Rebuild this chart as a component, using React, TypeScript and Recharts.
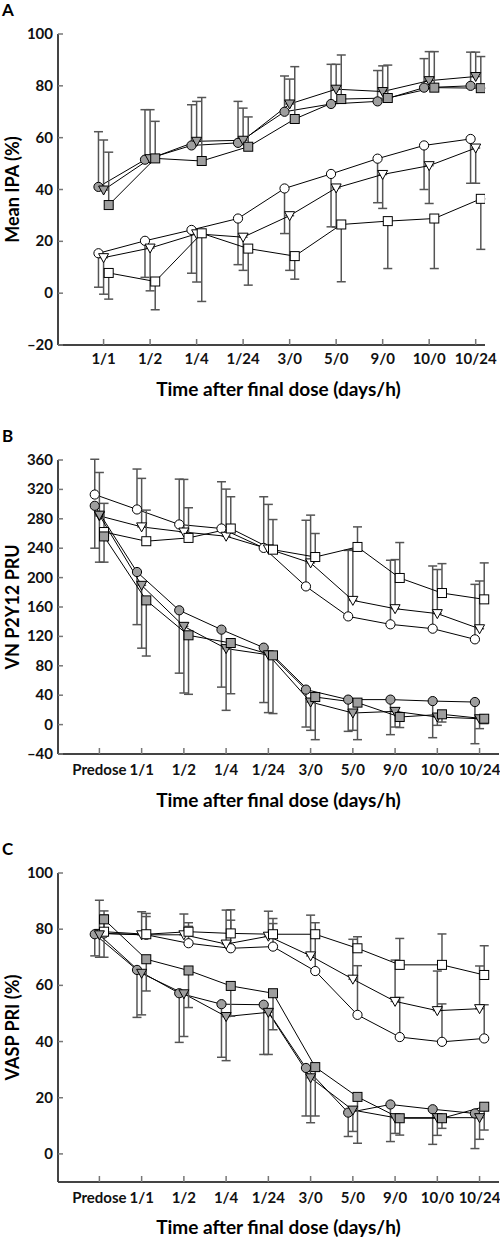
import React from "react";
import { LineChart, Line, XAxis, YAxis, ErrorBar } from "recharts";

// categories
const catsA = ["1/1", "1/2", "1/4", "1/24", "3/0", "5/0", "9/0", "10/0", "10/24"];
const catsBC = ["Predose", "1/1", "1/2", "1/4", "1/24", "3/0", "5/0", "9/0", "10/0", "10/24"];

// panel A: mean IPA (%) -- means and whisker ends
const aGrayCircle = [41, 51.5, 57, 58, 70, 73, 74, 79.3, 80];
const aGrayCircleHi = [62.3, 70.8, 72.7, 74, 83.8, 88.3, 85.9, 90.5, 93];
const aGrayTri = [39.8, 51.9, 58.6, 59, 73, 78.7, 77.8, 82, 83.6];
const aGrayTriHi = [59.1, 70.8, 74, 71.4, 82.6, 88.3, 87.7, 93.2, 93];
const aGraySq = [34, 52, 51, 56.5, 67.2, 74.9, 75.3, 79.3, 79.1];
const aGraySqHi = [54.4, 66.3, 75.5, 68, 87.4, 91.9, 88, 93.2, 91.3];
const aOpenCircle = [15.4, 20.2, 24.4, 28.8, 40.4, 46, 51.9, 57, 59.5];
const aOpenCircleLo = [2.3, 6.1, 7.7, 11, 23, 25.6, 34.9, 40, 42.4];
const aOpenTri = [13.7, 17.4, 22.9, 21.6, 29.9, 40.6, 45.8, 49.2, 56];
const aOpenTriLo = [-0.4, 0.9, 4.3, 8.8, 8.8, 25.5, 32.7, 34.6, 42.4];
const aOpenSq = [7.8, 4.5, 23.1, 17.2, 14.3, 26.5, 27.8, 28.8, 36.4];
const aOpenSqLo = [-2.3, -6.4, -3.2, 3.1, 5.4, 4.4, 9.5, 9.5, 16.9];

// panel B: VN P2Y12 PRU
const bOpenCircle = [313, 292.7, 272.3, 266.8, 240.4, 188, 147.2, 136.4, 130.5, 116];
const bOpenCircleHi = [361, 347.7, 334, 330.4, 310, 278, 237, 223.6, 215.8, 190.8];
const bOpenTri = [284, 269, 262, 256.3, 239, 220, 169, 157.7, 151, 130.4];
const bOpenTriHi = [343, 335, 333.6, 320.4, 299.6, 285, 238, 224.5, 211, 195.4];
const bOpenSq = [262, 249.5, 254, 266.8, 238, 228, 241.7, 199.5, 179, 170.4];
const bOpenSqHi = [301, 291.8, 295, 310, 279, 260, 269, 247.7, 219, 220];
const bGrayCircle = [297.7, 207.6, 155.5, 129.2, 104.7, 47.6, 34, 34, 32, 30.7];
const bGrayCircleLo = [240, 136, 70, 51, 30, -3.3, -9.2, -13.7, -17.8, -26];
const bGrayTri = [285, 189.5, 133.7, 103.4, 95, 30.7, 15.8, 18, 10.3, 8];
const bGrayTriLo = [221, 104, 43, 19.4, 16.3, -7.8, -7.8, -3.3, -1, -5.5];
const bGraySq = [256, 169, 121.5, 111, 94.2, 37.5, 29.9, 10.3, 14, 8];
const bGraySqLo = [221, 93.3, 41.2, 42, 15, -20.5, -20.5, -4, 3.5, 1.3];

// panel C: VASP PRI (%)
const cOpenCircle = [78.5, 78, 75, 73.2, 73.8, 65.1, 49.5, 41.6, 39.9, 41.1];
const cOpenCircleHi = [85, 84.5, 81, 83.2, 82, 77, 67, 55.7, 53.4, 53.1];
const cOpenTri = [78.5, 78, 78, 74.7, 77.5, 70.5, 62.2, 54.3, 51, 51.7];
const cOpenTriHi = [90.3, 86.2, 85.4, 86.8, 86.4, 85, 76.4, 69, 65.1, 66.9];
const cOpenSq = [79.1, 78.2, 79.1, 78.5, 78.2, 78.2, 73.2, 67.3, 67.3, 63.7];
const cOpenSqHi = [86.5, 85.6, 82.3, 86.9, 83.8, 82.3, 77.3, 76.7, 78.3, 74.1];
const cGrayCircle = [78.2, 65.5, 57.2, 53.3, 53.1, 30.6, 14.7, 17.6, 15.9, 14.4];
const cGrayCircleLo = [70.5, 48.6, 39.7, 34.4, 35.4, 13.5, 6.2, 4.4, 3.4, 1.9];
const cGrayTri = [78, 64.3, 57, 48.9, 50.4, 27.1, 15.6, 12.9, 12.9, 12.9];
const cGrayTriLo = [70, 49.5, 41.8, 33.2, 35.4, 11.1, 8, 7.3, 6.6, 5.2];
const cGraySq = [83.5, 69.3, 65.3, 59.8, 57.2, 30.9, 20.3, 12.7, 12.7, 16.8];
const cGraySqLo = [70, 58, 52.1, 49, 44.2, 13.5, 3.8, 6.7, 9.1, 8.5];

const ticksA = [-20, 0, 20, 40, 60, 80, 100];
const ticksB = [-40, 0, 40, 80, 120, 160, 200, 240, 280, 320, 360];
const ticksC = [0, 20, 40, 60, 80, 100];

const FONT = "Lato, 'Open Sans', sans-serif";
const GRAY = "#9e9e9e";

type Marker = "circle" | "triangle" | "square";

interface SeriesDef {
  key: string;
  values: number[];
  whisker: number[];
  marker: Marker;
  filled: boolean;
  shift: number;
}

function toPoints(s: SeriesDef) {
  return s.values.map((v, i) => {
    const w = s.whisker[i];
    return { x: i + 1 + s.shift, y: v, err: w >= v ? [0, w - v] : [v - w, 0] };
  });
}

function makeDot(marker: Marker, filled: boolean) {
  return (props: any) => {
    const { cx, cy, index } = props;
    const fill = filled ? GRAY : "#fff";
    if (marker === "circle")
      return <circle key={index} cx={cx} cy={cy} r={4.6} fill={fill} stroke="#000" strokeWidth={1} />;
    if (marker === "square")
      return <rect key={index} x={cx - 4.5} y={cy - 4.5} width={9} height={9} fill={fill} stroke="#000" strokeWidth={1} />;
    return (
      <polygon
        key={index}
        points={`${cx - 5},${cy - 4} ${cx + 5},${cy - 4} ${cx},${cy + 5}`}
        fill={fill}
        stroke="#000"
        strokeWidth={1}
      />
    );
  };
}

const fmtNum = (v: number) => (v < 0 ? `\u2013${Math.abs(v)}` : `${v}`);

function YTick(props: any) {
  const { x, y, payload } = props;
  return (
    <g>
      <line x1={x + 5} x2={x + 10} y1={y} y2={y} stroke="#777" strokeWidth={1.5} />
      <text x={x} y={y} dy={5} textAnchor="end" fontFamily={FONT} fontWeight={700} fontSize={15} fill="#111">
        {fmtNum(payload.value)}
      </text>
    </g>
  );
}

function makeXTick(labels: string[], gap: number) {
  return (props: any) => {
    const { x, y, payload } = props;
    return (
      <g>
        <line x1={x} x2={x} y1={y} y2={y - 6} stroke="#777" strokeWidth={1.5} />
        <text x={x} y={y + gap} textAnchor="middle" fontFamily={FONT} fontWeight={700} fontSize={15} fill="#111">
          {labels[payload.value - 1]}
        </text>
      </g>
    );
  };
}

interface PanelProps {
  letter: string;
  top: number;
  height: number;
  marginTop: number;
  marginRight: number;
  axisHeight: number;
  labels: string[];
  xMax: number;
  yDomain: [number, number];
  yTicks: number[];
  yTitle: string;
  series: SeriesDef[];
  tickGap: number;
  titleOffset: number;
  titleDx: number;
}

function Panel(p: PanelProps) {
  const xTicks = p.labels.map((_, i) => i + 1);
  return (
    <div style={{ position: "absolute", left: 0, top: p.top, width: 500, height: p.height }}>
      <div
        style={{
          position: "absolute",
          left: 2,
          top: p.marginTop - 33,
          fontFamily: FONT,
          fontWeight: 700,
          fontSize: 17,
          lineHeight: "17px",
          color: "#000",
        }}
      >
        {p.letter}
      </div>
      <LineChart
        width={500}
        height={p.height}
        margin={{ top: p.marginTop, right: p.marginRight, bottom: 0, left: 0 }}
      >
        <XAxis
          type="number"
          dataKey="x"
          domain={[0.02, p.xMax]}
          allowDataOverflow
          ticks={xTicks}
          interval={0}
          height={p.axisHeight}
          tickSize={0}
          tickMargin={0}
          tickLine={false}
          tick={makeXTick(p.labels, p.tickGap)}
          axisLine={{ stroke: "#444", strokeWidth: 2 }}
          label={{
            value: "Time after final dose (days/h)",
            position: "insideBottom",
            offset: p.titleOffset,
            dx: p.titleDx,
            style: { fontFamily: FONT, fontWeight: 700, fontSize: 19, fill: "#000" },
          }}
        />
        <YAxis
          type="number"
          domain={p.yDomain}
          allowDataOverflow
          ticks={p.yTicks}
          interval={0}
          width={58}
          tickSize={0}
          tickMargin={5}
          tickLine={false}
          tick={<YTick />}
          axisLine={{ stroke: "#444", strokeWidth: 2 }}
          label={{
            value: p.yTitle,
            angle: -90,
            position: "insideLeft",
            offset: 13,
            style: { textAnchor: "middle", fontFamily: FONT, fontWeight: 700, fontSize: 18, fill: "#000" },
          }}
        />
        {p.series.map((s) => (
          <Line
            key={s.key}
            data={toPoints(s)}
            dataKey="y"
            type="linear"
            stroke="#000"
            strokeWidth={1}
            dot={makeDot(s.marker, s.filled)}
            activeDot={false}
            isAnimationActive={false}
          >
            <ErrorBar dataKey="err" direction="y" width={4.5} stroke="#555" strokeWidth={1.5} />
          </Line>
        ))}
      </LineChart>
    </div>
  );
}

const S = 0.11;

const seriesA: SeriesDef[] = [
  { key: "ao-c", values: aOpenCircle, whisker: aOpenCircleLo, marker: "circle", filled: false, shift: -S },
  { key: "ao-t", values: aOpenTri, whisker: aOpenTriLo, marker: "triangle", filled: false, shift: 0 },
  { key: "ao-s", values: aOpenSq, whisker: aOpenSqLo, marker: "square", filled: false, shift: S },
  { key: "ag-c", values: aGrayCircle, whisker: aGrayCircleHi, marker: "circle", filled: true, shift: -S },
  { key: "ag-t", values: aGrayTri, whisker: aGrayTriHi, marker: "triangle", filled: true, shift: 0 },
  { key: "ag-s", values: aGraySq, whisker: aGraySqHi, marker: "square", filled: true, shift: S },
];

const seriesB: SeriesDef[] = [
  { key: "bo-c", values: bOpenCircle, whisker: bOpenCircleHi, marker: "circle", filled: false, shift: -S },
  { key: "bo-t", values: bOpenTri, whisker: bOpenTriHi, marker: "triangle", filled: false, shift: 0 },
  { key: "bo-s", values: bOpenSq, whisker: bOpenSqHi, marker: "square", filled: false, shift: S },
  { key: "bg-c", values: bGrayCircle, whisker: bGrayCircleLo, marker: "circle", filled: true, shift: -S },
  { key: "bg-t", values: bGrayTri, whisker: bGrayTriLo, marker: "triangle", filled: true, shift: 0 },
  { key: "bg-s", values: bGraySq, whisker: bGraySqLo, marker: "square", filled: true, shift: S },
];

const seriesC: SeriesDef[] = [
  { key: "co-c", values: cOpenCircle, whisker: cOpenCircleHi, marker: "circle", filled: false, shift: S },
  { key: "co-t", values: cOpenTri, whisker: cOpenTriHi, marker: "triangle", filled: false, shift: 0 },
  { key: "co-s", values: cOpenSq, whisker: cOpenSqHi, marker: "square", filled: false, shift: S },
  { key: "cg-c", values: cGrayCircle, whisker: cGrayCircleLo, marker: "circle", filled: true, shift: -S },
  { key: "cg-t", values: cGrayTri, whisker: cGrayTriLo, marker: "triangle", filled: true, shift: 0 },
  { key: "cg-s", values: cGraySq, whisker: cGraySqLo, marker: "square", filled: true, shift: S },
];

export default function App() {
  return (
    <div style={{ position: "absolute", left: 0, top: 0, width: 500, height: 1240, background: "#fff" }}>
      <Panel
        letter="A"
        top={0}
        height={410}
        marginTop={34}
        marginRight={15}
        axisHeight={65}
        labels={catsA}
        xMax={9.2}
        yDomain={[-20, 100]}
        yTicks={ticksA}
        yTitle="Mean IPA (%)"
        series={seriesA}
        tickGap={19}
        titleOffset={14}
        titleDx={7}
      />
      <Panel
        letter="B"
        top={410}
        height={410}
        marginTop={50}
        marginRight={1}
        axisHeight={66}
        labels={catsBC}
        xMax={10.46}
        yDomain={[-40, 360]}
        yTicks={ticksB}
        yTitle="VN P2Y12 PRU"
        series={seriesB}
        tickGap={21}
        titleOffset={13}
        titleDx={0}
      />
      <Panel
        letter="C"
        top={820}
        height={420}
        marginTop={53}
        marginRight={1}
        axisHeight={58}
        labels={catsBC}
        xMax={10.46}
        yDomain={[-10, 100]}
        yTicks={ticksC}
        yTitle="VASP PRI (%)"
        series={seriesC}
        tickGap={21}
        titleOffset={6}
        titleDx={0}
      />
    </div>
  );
}
